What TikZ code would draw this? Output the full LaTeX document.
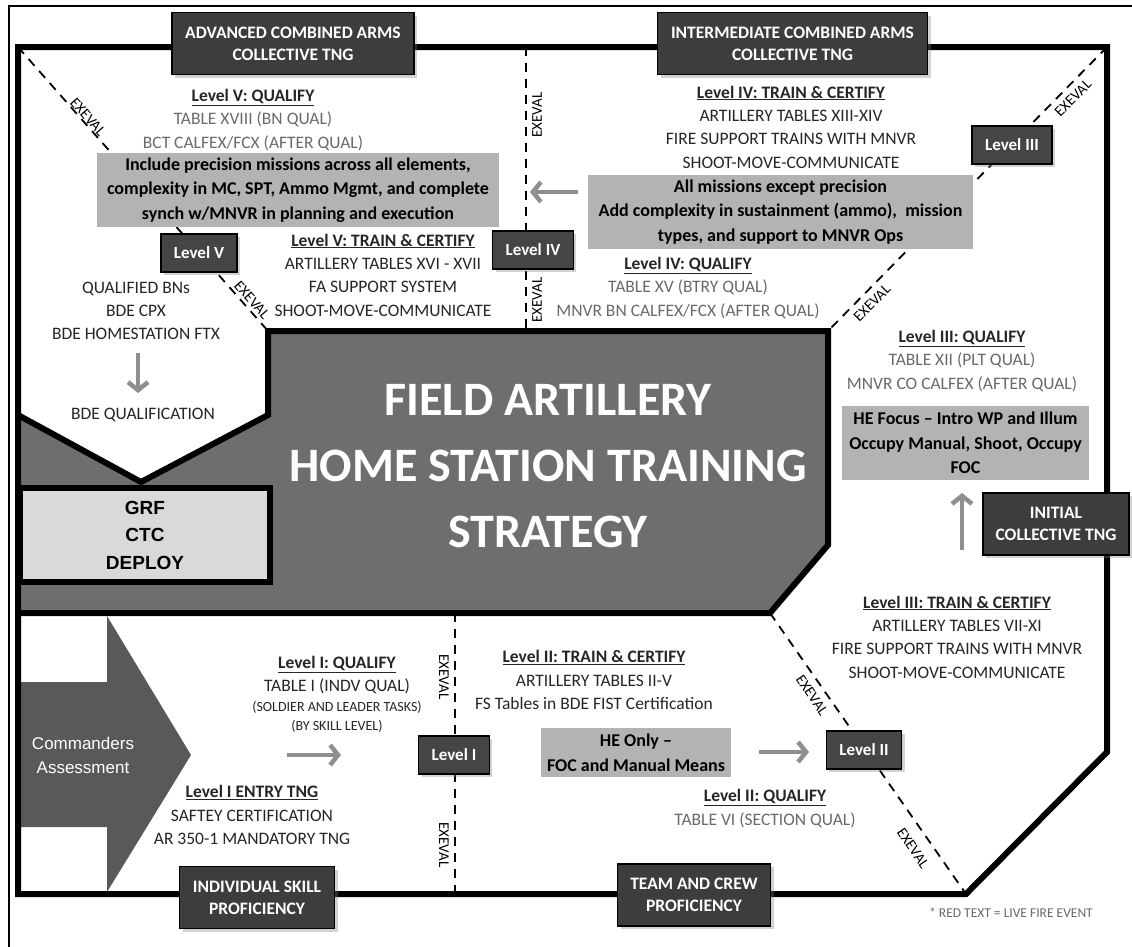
\documentclass[tikz,border=0pt]{standalone}
\usepackage{fontspec}
\setmainfont{Carlito}
\newfontfamily\arialfont{Liberation Sans}
\usepackage{tikz}
\usetikzlibrary{arrows.meta,shadows}
\usepackage{xcolor}

\definecolor{hdrfill}{HTML}{3D3D3D}
\definecolor{lvlfill}{HTML}{454545}
\definecolor{notefill}{HTML}{B3B3B3}
\definecolor{corefill}{HTML}{6E6E6E}
\definecolor{grffill}{HTML}{D9D9D9}
\definecolor{cmdfill}{HTML}{595959}
\definecolor{arrowgray}{HTML}{8F8F8F}
\definecolor{txtdark}{HTML}{262626}
\definecolor{livefire}{HTML}{6A6A6A}

\newcommand{\livetxt}[1]{{\color{livefire}#1}}
\newcommand{\lvlhead}[1]{\textbf{\underline{#1}}}

\begin{document}
\begin{tikzpicture}[x=1pt, y=-1pt,
      hdr/.style={draw=black, line width=1.5pt, fill=hdrfill, text=white, align=center,
                  minimum height=62pt, font=\bfseries\fontsize{17.5}{22}\selectfont,
                  drop shadow={shadow xshift=3pt, shadow yshift=-3pt, opacity=0.35}},
      lvl/.style={draw=black, line width=1.5pt, fill=lvlfill, text=white,
                  inner xsep=13pt, minimum height=38pt, font=\bfseries\fontsize{17}{20}\selectfont,
                  drop shadow={shadow xshift=3pt, shadow yshift=-3pt, opacity=0.35}},
      note/.style={fill=notefill, align=center, inner sep=0pt, text=black,
                   font=\bfseries\fontsize{18}{24.5}\selectfont},
      txt/.style={align=center, inner sep=0pt, text=txtdark, font=\fontsize{17.5}{23.3}\selectfont},
      exe/.style={inner sep=0pt, text=black, font=\fontsize{15}{17}\selectfont},
      sep/.style={dash pattern=on 9pt off 7pt, line width=1.8pt},
      wall/.style={line width=6pt},
      garrow/.style={draw=arrowgray, line width=4.5pt, -{Straight Barb[length=8pt, width=20pt]}}]
    \path[use as bounding box, fill=white] (0,0) rectangle (1132,946);
    \draw[line width=1.5pt] (9,960) -- (9,6) -- (1140,6);

    % outer frame, commanders arrow, core block
    \fill[white] (18,47) -- (1107,47) -- (1107,752) -- (966,894) -- (18,894) -- cycle;
    \fill[cmdfill] (21,682) -- (107,682) -- (107,616) -- (191,755) -- (107,892) -- (107,827) -- (21,827) -- cycle;
    \draw[wall] (18,47) -- (1107,47) -- (1107,752) -- (966,894) -- (18,894) -- cycle;
    \draw[wall, fill=corefill] (268,331) -- (828,331) -- (828,545) -- (770,613) -- (18,613)
      -- (18,415) -- (141,482) -- (268,415) -- cycle;
    \node[draw, wall, fill=grffill, minimum width=250pt, minimum height=94pt, align=center,
          font=\arialfont\bfseries\fontsize{19}{27.5}\selectfont] (grf) at (145,535) {GRF\\CTC\\DEPLOY};
    \node[text=white, align=center, font=\arialfont\fontsize{17}{24}\selectfont] (cmd) at (83,755)
      {Commanders\\Assessment};
    \node[text=white, align=center, font=\bfseries\fontsize{48}{66}\selectfont] (title) at (548,466)
      {FIELD ARTILLERY\\HOME STATION TRAINING\\STRATEGY};

    % EXEVAL lines
    \coordinate (ctl) at (18,47);
    \coordinate (ctr) at (1107,47);
    \coordinate (gtl) at (268,331);
    \coordinate (gtr) at (828,331);
    \coordinate (gbr) at (770,613);
    \coordinate (cbr) at (966,894);
    \coordinate (vt) at (526,47);
    \coordinate (vb) at (526,331);
    \coordinate (bt) at (455,613);
    \coordinate (bb) at (455,894);
    \draw[sep] (ctl) -- (gtl);
    \draw[sep] (ctr) -- (gtr);
    \draw[sep] (vt) -- (vb);
    \draw[sep] (bt) -- (bb);
    \draw[sep] (gbr) -- (cbr);
    \node[exe, rotate=-48.5] (e1) at (88,117) {EXEVAL};
    \node[exe, rotate=-48.5] (e2) at (252,300) {EXEVAL};
    \node[exe, rotate=90] (e3) at (537,115) {EXEVAL};
    \node[exe, rotate=90] (e4) at (537,300) {EXEVAL};
    \node[exe, rotate=45] (e5) at (1073,98) {EXEVAL};
    \node[exe, rotate=45] (e6) at (872,303) {EXEVAL};
    \node[exe, rotate=-90] (e7) at (444,677) {EXEVAL};
    \node[exe, rotate=-90] (e8) at (444,845) {EXEVAL};
    \node[exe, rotate=-55.7] (e9) at (812,695) {EXEVAL};
    \node[exe, rotate=-55.7] (e10) at (913,848) {EXEVAL};

    % level V
    \node[txt] (q5) at (253,120) {\lvlhead{Level V: QUALIFY}\\ \livetxt{TABLE XVIII (BN QUAL)}\\
      \livetxt{BCT CALFEX/FCX (AFTER QUAL)}};
    \node[note, minimum width=402pt, minimum height=74pt] (prec) at (298,190)
      {Include precision missions across all elements,\\ complexity in MC, SPT, Ammo Mgmt, and complete\\
       synch w/MNVR in planning and execution};
    \node[txt] (tc5) at (383,275) {\lvlhead{Level V: TRAIN \& CERTIFY}\\ ARTILLERY TABLES XVI - XVII\\
      FA SUPPORT SYSTEM\\ SHOOT-MOVE-COMMUNICATE};
    \node[txt] (bns) at (136,311) {QUALIFIED BNs\\ BDE CPX\\ BDE HOMESTATION FTX};
    \node[txt] (bdeq) at (143,415) {BDE QUALIFICATION};

    % level IV
    \node[txt] (tc4) at (791,127) {\lvlhead{Level IV: TRAIN \& CERTIFY}\\ ARTILLERY TABLES XIII-XIV\\
      FIRE SUPPORT TRAINS WITH MNVR\\ SHOOT-MOVE-COMMUNICATE};
    \node[note, minimum width=385pt, minimum height=74pt] (allm) at (780.5,212)
      {All missions except precision\\ Add complexity in sustainment (ammo),\ \ mission\\
       types, and support to MNVR Ops};
    \node[txt] (q4) at (688,288) {\lvlhead{Level IV: QUALIFY}\\ \livetxt{TABLE XV (BTRY QUAL)}\\
      \livetxt{MNVR BN CALFEX/FCX (AFTER QUAL)}};

    % level III
    \node[txt] (q3) at (962,361) {\lvlhead{Level III: QUALIFY}\\ \livetxt{TABLE XII (PLT QUAL)}\\
      \livetxt{MNVR CO CALFEX (AFTER QUAL)}};
    \node[note, minimum width=247pt, minimum height=74pt] (hefoc) at (965.5,443)
      {HE Focus -- Intro WP and Illum\\ Occupy Manual, Shoot, Occupy\\ FOC};
    \node[txt] (tc3) at (957,637) {\lvlhead{Level III: TRAIN \& CERTIFY}\\ ARTILLERY TABLES VII-XI\\
      FIRE SUPPORT TRAINS WITH MNVR\\ SHOOT-MOVE-COMMUNICATE};

    % levels I and II
    \node[txt] (q1) at (337,675) {\lvlhead{Level I: QUALIFY}\\ TABLE I (INDV QUAL)};
    \node[txt, font=\fontsize{14}{19}\selectfont] (q1sub) at (337,716.5)
      {(SOLDIER AND LEADER TASKS)\\ (BY SKILL LEVEL)};
    \node[txt] (entry) at (252,815) {\lvlhead{Level I ENTRY TNG}\\ SAFTEY CERTIFICATION\\
      AR 350-1 MANDATORY TNG};
    \node[txt] (tc2) at (594,680) {\lvlhead{Level II: TRAIN \& CERTIFY}\\ ARTILLERY TABLES II-V\\
      FS Tables in BDE FIST Certification};
    \node[note, minimum width=190pt, minimum height=49pt] (heonly) at (636,752.5)
      {HE Only --\\ FOC and Manual Means};
    \node[txt] (q2) at (765,808.5) {\lvlhead{Level II: QUALIFY}\\ \livetxt{TABLE VI (SECTION QUAL)}};
    \node[txt, text=livefire, font=\fontsize{13.5}{16}\selectfont] (redkey) at (1011,913)
      {* RED TEXT = LIVE FIRE EVENT};

    % gray arrows
    \coordinate (a1s) at (138,353);
    \coordinate (a1e) at (138,393);
    \coordinate (a2s) at (962,550);
    \coordinate (a2e) at (962,493);
    \coordinate (a3s) at (578,192);
    \coordinate (a3e) at (530,192);
    \coordinate (a4s) at (287,755);
    \coordinate (a4e) at (341,755);
    \coordinate (a5s) at (759,752);
    \coordinate (a5e) at (809,752);
    \draw[garrow] (a1s) -- (a1e);
    \draw[garrow] (a2s) -- (a2e);
    \draw[garrow] (a3s) -- (a3e);
    \draw[garrow] (a4s) -- (a4e);
    \draw[garrow] (a5s) -- (a5e);

    % level boxes
    \node[lvl] (lv5) at (199,253) {Level V};
    \node[lvl] (lv4) at (533,250) {Level IV};
    \node[lvl] (lv3) at (1012,145) {Level III};
    \node[lvl] (lv2) at (864,750) {Level II};
    \node[lvl] (lv1) at (454,755) {Level I};

    % stage headers
    \node[hdr, minimum width=242pt] (adv) at (293,43.5) {ADVANCED COMBINED ARMS\\ COLLECTIVE TNG};
    \node[hdr, minimum width=270pt] (inter) at (792.5,43.5) {INTERMEDIATE COMBINED ARMS\\ COLLECTIVE TNG};
    \node[hdr, minimum width=146pt] (init) at (1056,524) {INITIAL\\ COLLECTIVE TNG};
    \node[hdr, minimum width=155pt] (indiv) at (257,897.5) {INDIVIDUAL SKILL\\ PROFICIENCY};
    \node[hdr, minimum width=153pt] (team) at (694,895) {TEAM AND CREW\\ PROFICIENCY};
  \end{tikzpicture}
\end{document}
